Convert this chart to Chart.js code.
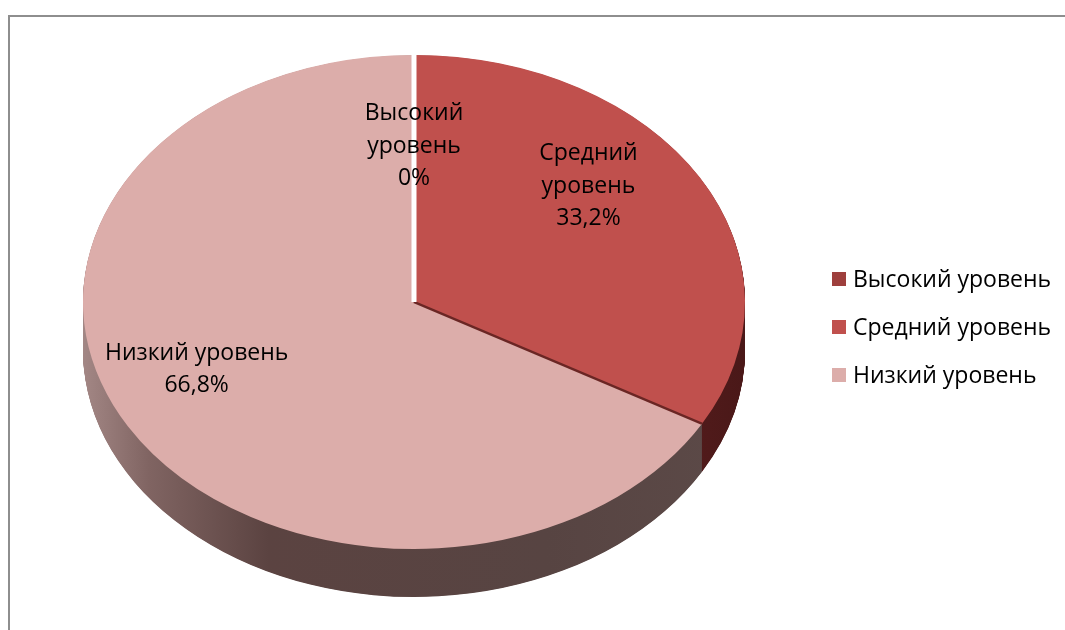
<!DOCTYPE html>
<html><head><meta charset="utf-8">
<script src="https://cdn.jsdelivr.net/npm/chart.js@4.4.1/dist/chart.umd.min.js"></script>
<style>
html,body{margin:0;padding:0;background:#fff;}
#wrap{position:relative;width:1065px;height:630px;overflow:hidden;background:#fff;}
#frame{position:absolute;left:8px;top:15px;width:1200px;height:800px;border:2px solid #8e8e8e;box-sizing:border-box;}
canvas{position:absolute;left:0;top:0;}
</style></head><body>
<div id="wrap"><div id="frame"></div><canvas id="c" width="1065" height="630"></canvas></div>
<script>
// ---- data ----
const categories = ['Высокий уровень', 'Средний уровень', 'Низкий уровень'];
const values = [0, 33.2, 66.8];
const valueLabels = ['0%', '33,2%', '66,8%'];

// ---- style ----
const topColors = ['#9e3f3d', '#c0504d', '#dcadaa'];
const FONT = '"Open Sans", "Noto Sans", sans-serif';
const ELL = { cx: 414, cy: 302, rx: 331, ry: 247, depth: 48 };
const labelPlacement = [ {f: 0.63, dy: 0}, {f: 0.61, dy: -40}, {f: 0.76, dy: -27} ];

function ellPoint(angle, f) {
  return { x: ELL.cx + ELL.rx * f * Math.cos(angle), y: ELL.cy + ELL.ry * f * Math.sin(angle) };
}

const pie3d = {
  id: 'pie3d',
  beforeDatasetsDraw(chart) {
    const ctx = chart.ctx;
    const meta = chart.getDatasetMeta(0);
    const a0 = meta.data[0];
    const R = a0.outerRadius, sx = ELL.rx / R, sy = ELL.ry / R;
    ctx.save();
    ctx.translate(ELL.cx, ELL.cy); ctx.scale(sx, sy); ctx.translate(-a0.x, -a0.y);
    const toPre = X => a0.x + (X - ELL.cx) / sx;
    // side colours
    const gPink = ctx.createLinearGradient(toPre(83), 0, toPre(745), 0);
    gPink.addColorStop(0, '#a38785');
    gPink.addColorStop(0.1, '#806462');
    gPink.addColorStop(0.28, '#5b4341');
    gPink.addColorStop(0.7, '#574442');
    gPink.addColorStop(1, '#5c4a48');
    const gRed = ctx.createLinearGradient(toPre(600), 0, toPre(745), 0);
    gRed.addColorStop(0, '#5e2020');
    gRed.addColorStop(1, '#4a1818');
    const sideFill = [gRed, gRed, gPink];
    const dpre = ELL.depth / sy;
    const step = 0.5 / sy;
    for (let d = dpre; d > 0; d -= step) {
      meta.data.forEach((arc, i) => {
        if (arc.circumference === 0) return;
        ctx.beginPath();
        ctx.moveTo(arc.x, arc.y + d);
        ctx.arc(arc.x, arc.y + d, arc.outerRadius, arc.startAngle, arc.endAngle);
        ctx.closePath();
        ctx.fillStyle = sideFill[i];
        ctx.fill();
      });
    }
  },
  afterDatasetsDraw(chart) {
    const ctx = chart.ctx;
    const meta = chart.getDatasetMeta(0);
    const a0 = meta.data[0];
    const sx = ELL.rx / a0.outerRadius;
    // dark edge of middle slice cut face
    const a1 = meta.data[1];
    ctx.beginPath();
    ctx.moveTo(a1.x, a1.y);
    ctx.lineTo(a1.x + a1.outerRadius * Math.cos(a1.endAngle), a1.y + a1.outerRadius * Math.sin(a1.endAngle));
    ctx.strokeStyle = '#6a2624';
    ctx.lineWidth = 3 / sx;
    ctx.stroke();
    // gap for zero slice
    ctx.beginPath();
    ctx.moveTo(a0.x, a0.y);
    ctx.lineTo(a0.x + a0.outerRadius * Math.cos(a0.startAngle), a0.y + a0.outerRadius * Math.sin(a0.startAngle));
    ctx.strokeStyle = '#ffffff';
    ctx.lineWidth = 5 / sx;
    ctx.stroke();
    ctx.restore();
  },
  afterDraw(chart) {
    const ctx = chart.ctx;
    const meta = chart.getDatasetMeta(0);
    ctx.save();
    ctx.font = '23px ' + FONT;
    ctx.fillStyle = '#000';
    ctx.textAlign = 'center';
    ctx.textBaseline = 'middle';
    const lh = 32.5;
    meta.data.forEach((arc, i) => {
      const mid = (arc.startAngle + arc.endAngle) / 2;
      const p = ellPoint(mid, labelPlacement[i].f);
      const lines = i === 2 ? [categories[i], valueLabels[i]] : [...categories[i].split(' '), valueLabels[i]];
      const y0 = p.y + labelPlacement[i].dy - (lines.length - 1) * lh / 2;
      lines.forEach((t, k) => ctx.fillText(t, p.x, y0 + k * lh));
    });
    // legend
    ctx.textAlign = 'left';
    categories.forEach((c, i) => {
      const y = 279 + i * 48;
      ctx.fillStyle = topColors[i];
      ctx.fillRect(832, y - 7, 14, 14);
      ctx.fillStyle = '#000';
      ctx.fillText(c, 853, y + 1);
    });
    ctx.restore();
  }
};

new Chart(document.getElementById('c'), {
  type: 'pie',
  data: {
    labels: categories,
    datasets: [{ data: values, backgroundColor: topColors, borderWidth: 0 }]
  },
  options: {
    responsive: false,
    animation: false,
    events: [],
    layout: { padding: { left: 114, right: 351, top: 0, bottom: 30 } },
    plugins: { legend: { display: false }, tooltip: { enabled: false } }
  },
  plugins: [pie3d]
});
</script>
</body></html>
